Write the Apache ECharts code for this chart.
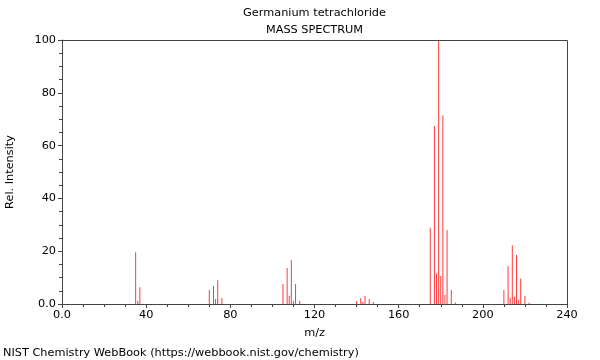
<!DOCTYPE html>
<html><head><meta charset="utf-8">
<script src="https://cdn.jsdelivr.net/npm/echarts@6/dist/echarts.min.js"></script>
<style>html,body{margin:0;padding:0;background:#fff}#c{width:600px;height:360px}</style>
</head><body><div id="c"></div>
<script>
const mz = [35, 36, 37, 70, 72, 73, 74, 76,
  105, 107, 108, 109, 110, 111, 113,
  140, 142, 143, 144, 146, 148,
  175, 177, 178, 179, 180, 181, 182, 183, 185, 187,
  210, 212, 213, 214, 215, 216, 217, 218, 220, 222];
const intensity = [19.6, 1.1, 6.3, 5.3, 6.8, 1.9, 9.0, 2.3,
  7.6, 13.6, 3.1, 16.7, 1.1, 7.6, 1.1,
  1.1, 2.3, 0.8, 3.0, 1.9, 0.8,
  28.9, 67.4, 11.6, 100, 10.6, 71.5, 3.4, 28.0, 5.3, 0.6,
  5.3, 14.3, 2.4, 22.3, 2.7, 18.6, 1.5, 9.7, 3.0, 0.5];
const titleText = 'Germanium tetrachloride';
const subtitleText = 'MASS SPECTRUM';
const xName = 'm/z';
const yName = 'Rel. Intensity';
const footer = 'NIST Chemistry WebBook (https://webbook.nist.gov/chemistry)';

const font = 'DejaVu Sans';
const fs = 11.3;
const axisCol = '#444';
const fmt = v => v === 0 ? '0.0' : String(v);
const chart = echarts.init(document.getElementById('c'), null, {renderer: 'canvas'});
chart.setOption({
  animation: false,
  textStyle: {fontFamily: font},
  graphic: [
    {type: 'text', x: 314.5, y: 13, style: {text: titleText, font: fs + 'px ' + font, fill: '#000', align: 'center', verticalAlign: 'middle'}},
    {type: 'text', x: 314.5, y: 30, style: {text: subtitleText, font: fs + 'px ' + font, fill: '#000', align: 'center', verticalAlign: 'middle'}},
    {type: 'text', x: 3, y: 353, style: {text: footer, font: fs + 'px ' + font, fill: '#000', align: 'left', verticalAlign: 'middle'}},
    {type: 'rect', shape: {x: 62.5, y: 40.5, width: 505, height: 264}, style: {fill: 'none', stroke: axisCol, lineWidth: 1}, z: 10, silent: true}
  ],
  grid: {left: 62, right: 33, top: 40, bottom: 56, containLabel: false, outerBoundsMode: 'none'},
  xAxis: {
    type: 'value', min: 0, max: 240, interval: 40,
    name: xName, nameLocation: 'middle', nameGap: 24,
    nameTextStyle: {fontSize: fs, color: '#000', fontFamily: font},
    axisLine: {show: true, onZero: false, lineStyle: {color: axisCol}},
    axisTick: {show: true, length: 4, lineStyle: {color: axisCol}},
    minorTick: {show: true, splitNumber: 4, length: 3, lineStyle: {color: axisCol}},
    splitLine: {show: false},
    axisLabel: {formatter: fmt, fontSize: fs, color: '#000', margin: 6, fontFamily: font}
  },
  yAxis: {
    type: 'value', min: 0, max: 100, interval: 20,
    name: yName, nameLocation: 'middle', nameGap: 46, nameRotate: 90,
    nameTextStyle: {fontSize: fs, color: '#000', fontFamily: font},
    axisLine: {show: true, onZero: false, lineStyle: {color: axisCol}},
    axisTick: {show: true, length: 4, lineStyle: {color: axisCol}},
    minorTick: {show: true, splitNumber: 4, length: 3, lineStyle: {color: axisCol}},
    splitLine: {show: false},
    axisLabel: {formatter: fmt, fontSize: fs, color: '#000', margin: 6, fontFamily: font}
  },
  series: [{
    type: 'bar',
    barWidth: 1,
    itemStyle: {color: '#ff3a3a'},
    data: mz.map((m, i) => [m, intensity[i]])
  }]
});
</script></body></html>
